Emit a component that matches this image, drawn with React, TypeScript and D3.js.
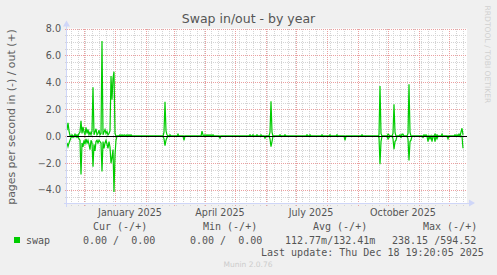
import React from 'react';
import * as d3 from 'd3';

// ---- data ----
const START = Date.UTC(2024, 10, 14);
const DAY = 86400000;
const END = START + 400 * DAY;
const DATA_DAYS = 397;

const yTicks = [8, 6, 4, 2, 0, -2, -4];
const xLabelTexts = ['January 2025', 'April 2025', 'July 2025', 'October 2025'];
const xLabelDates = ['2025-01-01', '2025-04-01', '2025-07-01', '2025-10-01'];

// [day offset from start, pages/s] swap out (+)
const swapOut: [number, number][] = [
  [0, 0.45], [1, 1.0], [2, 0.4], [3, 0.05], [5, 0.1], [8, 0.15], [10, 0.1], [12, 0.2],
  [13, 0.3], [14, 1.15], [15, 0.2], [16, 0.7], [17, 0.3], [18, 0.1], [19, 0.65], [20, 0.2],
  [21, 0.5], [22, 0.1], [23, 0.3], [24, 0.1], [25, 0.4], [26, 3.63], [27, 0.1], [28, 0.3],
  [29, 0.55], [30, 0.1], [31, 0.2], [32, 0.45], [33, 0.1], [34, 0.2], [35, 7.07], [36, 0.1],
  [37, 0.3], [38, 0.5], [39, 0.2], [40, 0.35], [41, 0.1], [42, 0.2], [43, 0.4], [44, 4.47],
  [45, 2.7], [46, 4.3], [47, 4.79], [48, 0.2], [53, 0.1], [55, 0.1], [57, 0.1], [58, 0.08],
  [60, 0.1], [62, 0.1], [64, 0.1], [97, 0.3], [98, 2.56], [99, 0.4], [100, 0.1], [103, 0.1],
  [111, 0.15], [135, 0.38], [136, 0.1], [138, 0.1], [140, 0.1], [142, 0.1], [144, 0.1],
  [146, 0.1], [183, 0.1], [186, 0.1], [190, 0.1], [194, 0.1], [203, 0.3], [204, 2.6],
  [205, 0.3], [213, 0.1], [218, 0.1], [240, 0.1], [243, 0.1], [255, 0.1], [263, 0.1],
  [270, 0.1], [295, 0.1], [312, 0.1], [313, 3.73], [314, 0.2], [321, 0.15], [322, 0.1],
  [326, 0.2], [327, 2.37], [328, 0.3], [333, 0.1], [335, 0.15], [336, 0.15], [341, 0.2],
  [342, 3.86], [343, 0.3], [357, 0.1], [359, 0.1], [368, 0.15], [370, 0.1], [375, 0.15],
  [388, 0.1], [390, 0.1], [392, 0.15], [394, 0.3], [395, 0.59], [396, 0.1],
];

// [day offset from start, pages/s] swap in (-), plotted below zero
const swapIn: [number, number][] = [
  [0, -0.5], [1, -0.78], [2, -0.5], [3, -0.3], [4, -0.1], [6, -0.1], [8, -0.05], [10, -0.1],
  [12, -0.2], [13, -0.3], [14, -2.85], [15, -0.5], [16, -0.8], [17, -0.3], [18, -0.6],
  [19, -0.2], [20, -0.5], [21, -0.3], [22, -0.6], [23, -1.0], [24, -0.3], [25, -0.5],
  [26, -2.26], [27, -0.6], [28, -1.1], [29, -0.4], [30, -0.3], [31, -0.5], [32, -0.3],
  [33, -0.4], [34, -0.5], [35, -2.63], [36, -0.4], [37, -0.9], [38, -0.5], [39, -0.3],
  [40, -0.6], [41, -0.9], [42, -0.4], [43, -0.8], [44, -2.0], [45, -1.6], [46, -1.0],
  [47, -4.15], [48, -1.4], [49, -0.3], [97, -0.2], [98, -0.7], [99, -0.3], [100, -0.1],
  [117, -0.3], [153, -0.15], [198, -0.15], [203, -0.2], [204, -0.78], [205, -0.4],
  [278, -0.3], [312, -0.1], [313, -2.09], [314, -0.4], [321, -0.2], [322, -0.1],
  [326, -0.2], [327, -0.97], [328, -0.4], [329, -0.3], [334, -0.1], [341, -0.2],
  [342, -1.8], [343, -0.4], [344, -0.3], [356, -0.1], [361, -0.4], [363, -0.2],
  [365, -0.4], [368, -0.4], [370, -0.2], [381, -0.2], [396, -0.9],
];

const legendHead = ['Cur (-/+)', 'Min (-/+)', 'Avg (-/+)', 'Max (-/+)'];
const legendVals = ['0.00 /  0.00', '0.00 /  0.00', '112.77m/132.41m', '238.15 /594.52'];

// ---- layout ----
const W = 497, H = 275;
const X0 = 67, X1 = 467, YT = 28.5, YB = 203.5;
const GREEN = '#00CC00';
const AXIS = '#CFD6F8';
const FONT = 'DejaVu Sans, sans-serif';
const MONO = 'DejaVu Sans Mono, monospace';

function dense(samples: [number, number][]): number[] {
  const arr = new Array(DATA_DAYS).fill(0);
  samples.forEach(([d, v]) => { arr[d] = v; });
  return arr;
}

export default function App() {
  const x = d3.scaleUtc().domain([new Date(START), new Date(END)]).range([X0, X1]);
  const y = d3.scaleLinear().domain([-5, 8]).range([YB, YT]);
  const snap = (v: number) => Math.round(v) + 0.5;

  const majorX = d3.utcMonth.range(new Date(START), new Date(END));
  const minorX = d3.utcMonday.range(new Date(START), new Date(END))
    .filter(d => !majorX.some(m => Math.abs(x(m) - x(d)) < 1));
  const minorY = d3.range(-5, 8.01, 0.5).filter(v => Math.abs(v % 2) > 1e-6 && v > -5);
  const majorY = yTicks;

  const outArr = dense(swapOut);
  const inArr = dense(swapIn);
  const line = d3.line<number>()
    .x((_, i) => x(new Date(START + i * DAY)))
    .y(v => y(v));

  const labelX = xLabelDates.map(s => x(new Date(new Date(s + 'T00:00:00Z').getTime() + 15 * DAY)));

  const legendHeadX = [93, 203, 313, 423];
  const legendValX = [83, 190, 285, 392];

  return (
    <svg width={W} height={H} style={{ position: 'absolute', left: 0, top: 0 }}
      xmlns="http://www.w3.org/2000/svg">
      <rect x={0} y={0} width={W} height={H} fill="#F0F0F0" />
      <rect x={X0} y={YT} width={X1 - X0} height={YB - YT} fill="#FFFFFF" />
      {/* minor grid */}
      <g stroke="#D4D4D4" strokeWidth={1} strokeDasharray="1,1" shapeRendering="crispEdges">
        {minorY.map(v => (
          <line key={'my' + v} x1={X0 - 2} x2={X1} y1={snap(y(v))} y2={snap(y(v))} />
        ))}
        {minorX.map(d => (
          <line key={'mx' + d.getTime()} x1={snap(x(d))} x2={snap(x(d))} y1={YT} y2={YB + 2} />
        ))}
      </g>
      {/* major grid */}
      <g stroke="#EAA0A0" strokeWidth={1} strokeDasharray="1,1" shapeRendering="crispEdges">
        {majorY.map(v => (
          <line key={'My' + v} x1={X0 - 2} x2={X1} y1={snap(y(v))} y2={snap(y(v))} />
        ))}
        {majorX.map(d => (
          <line key={'Mx' + d.getTime()} x1={snap(x(d))} x2={snap(x(d))} y1={YT} y2={YB + 2} />
        ))}
      </g>
      {/* data */}
      <path d={line(outArr) || ''} fill="none" stroke={GREEN} strokeWidth={1.2} strokeLinejoin="miter" />
      <path d={line(inArr) || ''} fill="none" stroke={GREEN} strokeWidth={1.2} strokeLinejoin="miter" />
      {/* zero line */}
      <line x1={X0} x2={X1} y1={snap(y(0))} y2={snap(y(0))} stroke="#000" strokeWidth={1} shapeRendering="crispEdges" />
      {/* axes */}
      <g stroke={AXIS} strokeWidth={1} shapeRendering="crispEdges">
        <line x1={X0 - 3} x2={X1 + 4} y1={snap(YB) - 1} y2={snap(YB) - 1} />
        <line x1={X0 - 0.5} x2={X0 - 0.5} y1={YB + 3} y2={YT - 3} />
      </g>
      <path d={`M${X1 + 2},${YB - 4} L${X1 + 8},${YB - 0.5} L${X1 + 2},${YB + 3} Z`} fill={AXIS} />
      <path d={`M${X0 - 4},${YT - 2} L${X0 - 0.5},${YT - 8} L${X0 + 3},${YT - 2} Z`} fill={AXIS} />
      {/* y tick labels */}
      <g fontFamily={FONT} fontSize={9.6} fill="#555555" textAnchor="end">
        {yTicks.map(v => (
          <text key={'yl' + v} x={61} y={y(v)} dy="0.36em">{d3.format('.1f')(v)}</text>
        ))}
      </g>
      {/* x labels */}
      <g fontFamily={FONT} fontSize={9.6} fill="#555555" textAnchor="middle">
        {xLabelTexts.map((t, i) => (
          <text key={t} x={labelX[i]} y={216}>{t}</text>
        ))}
      </g>
      {/* title */}
      <text x={248.5} y={23} textAnchor="middle" fontFamily={FONT} fontSize={12.5} fill="#555555">Swap in/out - by year</text>
      {/* y axis title */}
      <text transform={`translate(15,${(YT + YB) / 2 + 1}) rotate(-90)`} textAnchor="middle"
        fontFamily={FONT} fontSize={10.9} fill="#606060">pages per second in (-) / out (+)</text>
      {/* watermark */}
      <text transform="translate(484.5,5.5) rotate(90)" fontFamily={FONT} fontSize={7.6} fill="#D0D0D0">RRDTOOL / TOBI OETIKER</text>
      {/* legend */}
      <g fontFamily={MONO} fontSize={10} fill="#555555" style={{ whiteSpace: 'pre' }}>
        {legendHead.map((t, i) => (
          <text key={t + i} x={legendHeadX[i]} y={230} xmlSpace="preserve">{t}</text>
        ))}
        <rect x={14} y={237} width={6} height={6} fill={GREEN} />
        <text x={26} y={244}>swap</text>
        {legendVals.map((t, i) => (
          <text key={'v' + i} x={legendValX[i]} y={244} xmlSpace="preserve">{t}</text>
        ))}
        <text x={261} y={256} xmlSpace="preserve">Last update: Thu Dec 18 19:20:05 2025</text>
      </g>
      <text x={248} y={267} textAnchor="middle" fontFamily={FONT} fontSize={7.5} fill="#CCCCCC">Munin 2.0.76</text>
    </svg>
  );
}
